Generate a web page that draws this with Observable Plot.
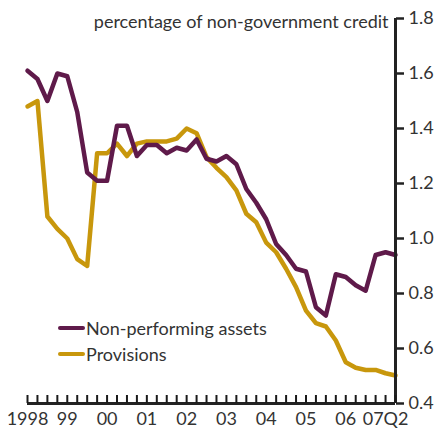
<!DOCTYPE html>
<html><head><meta charset="utf-8">
<script src="https://cdn.jsdelivr.net/npm/d3@7"></script>
<script src="https://cdn.jsdelivr.net/npm/@observablehq/plot@0.6"></script>
<style>
body{margin:0;background:#fff;}
#wrap{position:relative;width:438px;height:442px;font-family:Lato,sans-serif;}
.legend{position:absolute;left:58px;height:20px;font-size:18px;color:#333;display:flex;align-items:center;white-space:nowrap}
.legend .sw{display:inline-block;width:27px;height:4.5px;border-radius:2px;margin-right:1px}
</style></head><body><div id="wrap"></div><script>
const quarters = ["1998Q1","1998Q2","1998Q3","1998Q4","1999Q1","1999Q2","1999Q3","1999Q4",
  "2000Q1","2000Q2","2000Q3","2000Q4","2001Q1","2001Q2","2001Q3","2001Q4",
  "2002Q1","2002Q2","2002Q3","2002Q4","2003Q1","2003Q2","2003Q3","2003Q4",
  "2004Q1","2004Q2","2004Q3","2004Q4","2005Q1","2005Q2","2005Q3","2005Q4",
  "2006Q1","2006Q2","2006Q3","2006Q4","2007Q1","2007Q2"];
const nonPerforming = [1.61,1.58,1.50,1.60,1.59,1.46,1.24,1.21,1.21,1.41,1.41,1.30,1.34,1.34,1.31,1.33,
  1.32,1.36,1.29,1.28,1.30,1.27,1.18,1.13,1.07,0.98,0.94,0.89,0.88,0.75,0.72,0.87,0.86,0.83,0.81,0.94,0.95,0.94];
const provisions = [1.48,1.50,1.08,1.035,1.00,0.925,0.90,1.31,1.31,1.345,1.30,1.345,1.353,1.353,1.353,1.363,
  1.40,1.383,1.296,1.257,1.223,1.175,1.09,1.059,0.985,0.95,0.89,0.823,0.738,0.692,0.68,0.629,0.55,0.53,0.522,0.522,0.51,0.502];
const yTicks = [0.4,0.6,0.8,1.0,1.2,1.4,1.6,1.8];
const xLabelYears = [1998,1999,2000,2001,2002,2003,2004,2005,2006,2007];
const xLabels = ["1998","99","00","01","02","03","04","05","06","07Q2"];
const title = "percentage of non-government credit";
const seriesNames = ["Non-performing assets","Provisions"];
const colors = ["#5f1a4a","#c8970c"];

const toT = q => +q.slice(0,4) + (+q.slice(5) - 1) / 4;
const data = quarters.map((q,i) => ({t: toT(q), npa: nonPerforming[i], prov: provisions[i]}));
const tEnd = data[data.length-1].t;
const yMin = yTicks[0], yMax = yTicks[yTicks.length-1];

const chart = Plot.plot({
  width: 438, height: 442,
  marginLeft: 27, marginRight: 43, marginTop: 18, marginBottom: 39,
  style: {fontFamily: "Lato, sans-serif", fontSize: "18px", color: "#333"},
  x: {type: "linear", domain: [data[0].t, tEnd], axis: null},
  y: {domain: [yMin, yMax], axis: null},
  marks: [
    Plot.axisY({anchor: "right", ticks: yTicks, tickSize: 8, tickPadding: 5, strokeWidth: 2.5,
      tickFormat: d => d.toFixed(1), label: null, fill: "#333", stroke: "#222"}),
    Plot.text(xLabelYears, {x: d => d, text: (d, i) => xLabels[i], frameAnchor: "bottom",
      lineAnchor: "top", dy: 9, fill: "#333"}),
    Plot.text([title], {frameAnchor: "top-right", dx: -7, dy: 9, lineAnchor: "bottom", textAnchor: "end", fill: "#333"}),
    Plot.line(data, {x: "t", y: "prov", stroke: colors[1], strokeWidth: 4.5, strokeLinejoin: "round"}),
    Plot.line(data, {x: "t", y: "npa", stroke: colors[0], strokeWidth: 4.5, strokeLinejoin: "round"}),
    Plot.ruleX([tEnd], {stroke: "#222", strokeWidth: 3}),
    Plot.ruleY([yMin], {stroke: "#222", strokeWidth: 3}),
    Plot.ruleX(data, {x: "t", y1: () => yMin, y2: () => yMin, insetBottom: 8, stroke: "#1a1a1a", strokeWidth: 2})
  ]
});
const wrap = document.getElementById("wrap");
wrap.appendChild(chart);
const tops = [318, 344];
seriesNames.forEach((n,i) => {
  const d = document.createElement("div");
  d.className = "legend";
  d.style.top = tops[i] + "px";
  d.innerHTML = `<span class="sw" style="background:${colors[i]}"></span><span>${n}</span>`;
  wrap.appendChild(d);
});
</script></body></html>
